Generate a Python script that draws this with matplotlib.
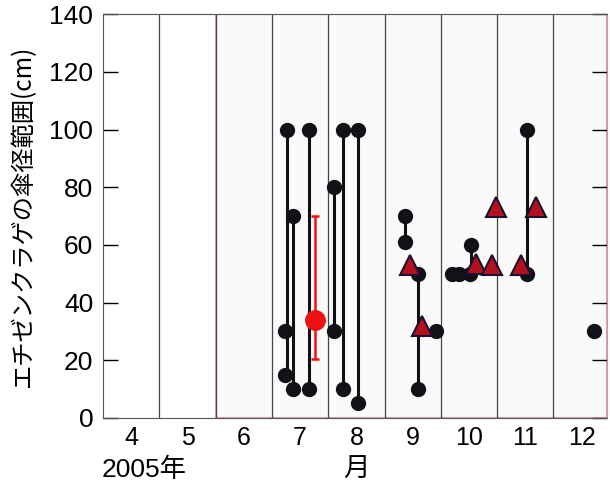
import matplotlib
matplotlib.use('Agg')
import matplotlib.pyplot as plt
from matplotlib.patches import Rectangle

plt.rcParams['font.family'] = ['Liberation Sans', 'Noto Sans CJK JP', 'DejaVu Sans']

# 月ごとの観測データ（x = 月, y = 傘径 cm）
months = [4, 5, 6, 7, 8, 9, 10, 11, 12]
month_labels = ['4', '5', '6', '7', '8', '9', '10', '11', '12']
y_ticks = [0, 20, 40, 60, 80, 100, 120, 140]

# 範囲の縦線（位置, 最小, 最大）
range_x = [6.76, 6.88, 7.16, 7.60, 7.76, 8.03, 8.86, 9.09, 10.04, 11.03]
range_lo = [15, 10, 10, 30, 10, 5, 61, 10, 50, 50]
range_hi = [100, 70, 100, 80, 100, 100, 70, 50, 60, 100]

# 黒丸
dot_x = [6.76, 6.74, 6.74, 6.88, 6.88, 7.16, 7.16, 7.60, 7.60, 7.76, 7.76,
         8.03, 8.03, 8.86, 8.86, 9.09, 9.09, 9.42, 9.69, 9.83, 10.01,
         10.04, 11.03, 11.03, 12.22]
dot_y = [100, 30, 15, 70, 10, 100, 10, 80, 30, 100, 10,
         100, 5, 70, 61, 50, 10, 30, 50, 50, 50,
         60, 50, 100, 30]

# 三角
tri_x = [8.96, 9.16, 10.13, 10.41, 10.48, 10.93, 11.19]
tri_y = [53, 32, 53.5, 53, 73, 53, 73]

# 赤丸（平均と範囲）
mean_x = [7.27]
mean_y = [34]
mean_lo = [20.5]
mean_hi = [70]

fig = plt.figure(figsize=(6.1, 4.91), dpi=100)
ax = fig.add_axes([0.169, 0.149, 0.826, 0.822])

ax.set_xlim(3.5, 12.45)
ax.set_ylim(0, 140)

# 背景（6月以降）
ax.add_patch(Rectangle((5.5, 0), 12.45 - 5.5, 140, facecolor='#fbfafa',
                       edgecolor='#e2a3b3', linewidth=1.5, zorder=0.5))

for b in [4.5, 5.5, 6.5, 7.5, 8.5, 9.5, 10.5, 11.5]:
    ax.axvline(b, color='#444444', linewidth=0.9, zorder=1)

ax.vlines(range_x, range_lo, range_hi, color='#111111', linewidth=2.2, zorder=2)
ax.errorbar(mean_x, mean_y,
            yerr=[[mean_y[0] - mean_lo[0]], [mean_hi[0] - mean_y[0]]],
            fmt='o', color='#ee1111', markersize=14, elinewidth=1.8,
            capsize=3, capthick=1.8, zorder=3)
ax.plot(dot_x, dot_y, 'o', color='#111118', markersize=10, linestyle='none', zorder=4)
ax.plot(tri_x, tri_y, '^', markerfacecolor='#b5101e', markeredgecolor='#1a1030',
        markeredgewidth=1.5, markersize=15, linestyle='none', zorder=5)

ax.set_xticks(months)
ax.set_xticklabels(month_labels, fontsize=18)
ax.set_yticks(y_ticks)
ax.set_yticklabels([str(v) for v in y_ticks], fontsize=19)
ax.tick_params(axis='x', length=0, pad=6)
ax.tick_params(axis='y', direction='in', length=11, width=1, right=True, pad=7)

for s in ['left', 'bottom', 'top']:
    ax.spines[s].set_color('#555555')
ax.spines['right'].set_color('#d090a0')

ax.set_ylabel('エチゼンクラゲの傘径範囲(cm)', fontsize=17.5,
              family=['Noto Sans CJK JP', 'DejaVu Sans'])
ax.yaxis.set_label_coords(-0.133, 0.5)

ax.text(3.47, -18, '2005年', fontsize=19, ha='left', va='center',
        family=['Liberation Sans', 'Noto Sans CJK JP'])
ax.text(8.0, -18, '月', fontsize=19, ha='center', va='center',
        family=['Noto Sans CJK JP'])

fig.savefig('out.png', dpi=100)
